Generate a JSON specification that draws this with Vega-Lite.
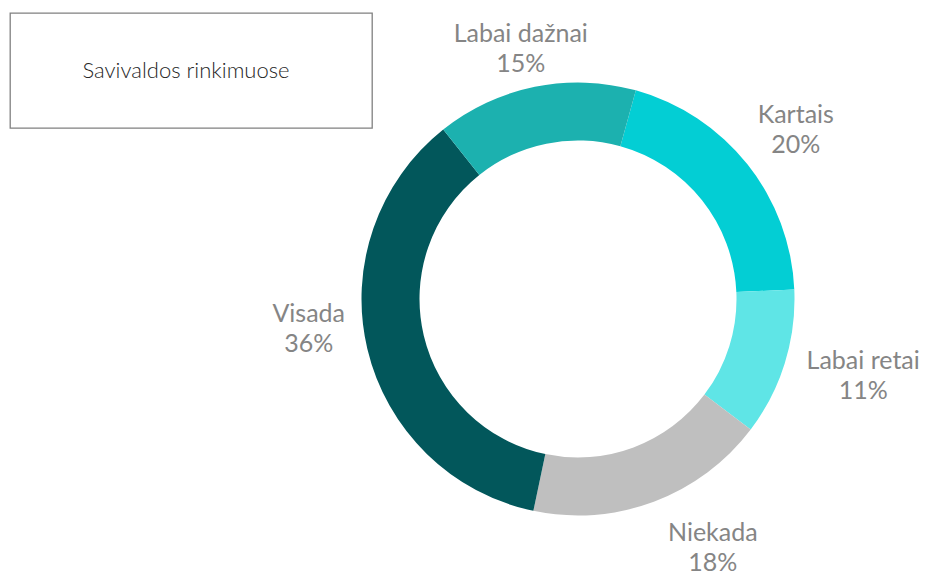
{
  "$schema": "https://vega.github.io/schema/vega-lite/v6.json",
  "padding": {"left": 9, "top": 12, "right": 0, "bottom": 0},
  "bounds": "flush",
  "spacing": 0,
  "background": "white",
  "config": {"view": {"stroke": null}},
  "hconcat": [
    {
      "width": 362,
      "height": 115,
      "view": {"stroke": "#808080", "strokeWidth": 1.3},
      "data": {"values": [{"title": "Savivaldos rinkimuose"}]},
      "mark": {"type": "text", "font": "Lato", "fontWeight": 300, "fontSize": 22, "color": "#262626", "baseline": "middle", "align": "center", "dx": -5},
      "encoding": {"text": {"field": "title"}}
    },
    {
      "width": 412,
      "height": 572,
      "data": {"values": [
        {"category": "Kartais", "value": 20},
        {"category": "Labai retai", "value": 11},
        {"category": "Niekada", "value": 18},
        {"category": "Visada", "value": 36},
        {"category": "Labai dažnai", "value": 15}
      ]},
      "transform": [
        {"window": [{"op": "row_number", "as": "i"}]},
        {"calculate": "datum.category + '\\n' + datum.value + '%'", "as": "lbl"}
      ],
      "encoding": {
        "theta": {"field": "value", "type": "quantitative", "stack": true, "scale": {"range": [0.2705, 6.5537]}},
        "order": {"field": "i", "type": "quantitative"}
      },
      "layer": [
        {
          "mark": {"type": "arc", "radius": 216.5, "innerRadius": 158.5},
          "encoding": {
            "color": {"field": "category", "type": "nominal", "legend": null,
              "scale": {"domain": ["Kartais", "Labai retai", "Niekada", "Visada", "Labai dažnai"],
                        "range": ["#03CED4", "#5FE5E6", "#BFBFBF", "#02575B", "#1CB1AF"]}}
          }
        },
        {
          "mark": {"type": "text", "font": "Lato", "fontSize": 25, "color": "#858585", "lineBreak": "\n", "lineHeight": 30, "align": "center", "baseline": "middle", "dy": -15,
            "radius": {"expr": "datum.category === 'Labai dažnai' ? 256.5 : datum.category === 'Kartais' ? 275.6 : datum.category === 'Labai retai' ? 295.4 : datum.category === 'Niekada' ? 283.5 : 270.9"},
            "thetaOffset": {"expr": "datum.category === 'Labai dažnai' ? -0.0244 : datum.category === 'Kartais' ? 0.0122 : datum.category === 'Labai retai' ? -0.0384 : datum.category === 'Niekada' ? -0.1379 : 0.1222"}
          },
          "encoding": {"text": {"field": "lbl"}}
        }
      ]
    }
  ]
}
